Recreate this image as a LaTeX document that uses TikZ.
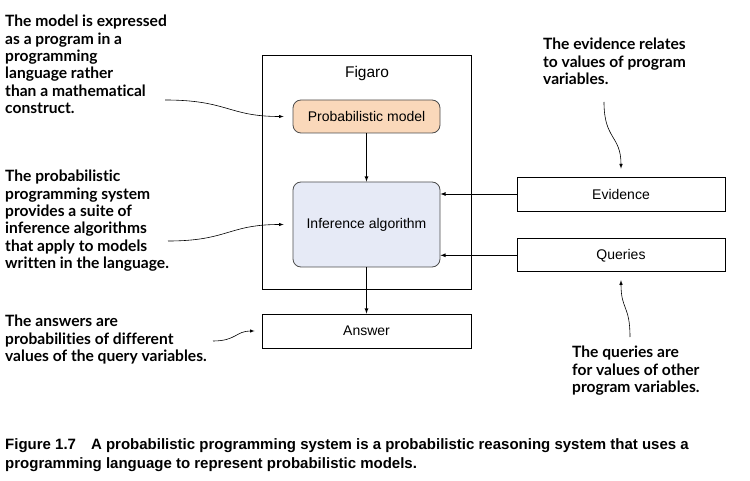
\documentclass[tikz,border=0pt]{standalone}
\usepackage{xcolor}
\usepackage{fontspec}
\setmainfont{Liberation Sans}
\newfontfamily\notefont[Ligatures=NoCommon]{Lato}
\usepackage{tikz}
\usetikzlibrary{arrows,positioning}

\definecolor{modelfill}{RGB}{250,216,186}
\definecolor{inferfill}{RGB}{230,234,246}

\begin{document}
\begin{tikzpicture}[x=1pt,y=-1pt,>=latex,inner sep=0pt,
  box/.style={draw=black,line width=0.8pt,minimum width=208pt,minimum height=34pt,font=\fontsize{14}{16}\selectfont},
  rbox/.style={draw=black!70,line width=0.8pt,rounded corners=8pt,minimum width=147pt,font=\fontsize{14}{16}\selectfont},
  note/.style={anchor=north west,align=left,font=\notefont\bfseries\fontsize{15.6}{17.4}\selectfont},
  wave/.style={->,line width=0.6pt,shorten >=9pt}]
\useasboundingbox (0,0) rectangle (750,481);

\node[box,minimum width=209pt,minimum height=234pt] (F) at (366.5,172) {};
\node[font=\fontsize{15.5}{18}\selectfont] (Fig) at (367,73) {Figaro};
\node[rbox,fill=modelfill,minimum height=33pt] (M) at (366.5,116.5) {Probabilistic model};
\node[rbox,fill=inferfill,minimum height=85pt] (I) at (366.5,224.5) {Inference algorithm};
\node[box] (E) at (621,194) {Evidence};
\node[box,minimum height=33pt] (Q) [below = 27pt of E] {Queries};
\node[box,minimum width=209pt] (A) at (366.5,331) {Answer};

\path (M) edge [->,line width=0.8pt] (I);
\path (E) edge [->,line width=0.8pt] (E -| I.east);
\path (Q) edge [->,line width=0.8pt] (Q -| I.east);
\path (I) edge [->,line width=0.8pt] (A);

% side notes
\node[note] (N1) at (5,15) {The model is expressed\\as a program in a\\programming\\language rather\\than a mathematical\\construct.};
\node[note] (N2) at (5,170) {The probabilistic\\programming system\\provides a suite of\\inference algorithms\\that apply to models\\written in the language.};
\node[note] (N3) at (5,315) {The answers are\\probabilities of different\\values of the query variables.};
\node[note] (N4) at (543,38) {The evidence relates\\to values of program\\variables.};
\node[note] (N5) at (572,346) {The queries are\\for values of other\\program variables.};

\coordinate (n1) at (165,100);
\coordinate (n2) at (168,241);
\coordinate (n3) at (213,341);
\coordinate (n4) at (604,102);
\coordinate (n5) at (630,337);
\draw[wave] (n1) .. controls (228,100) and (228,116.5) .. (M.west);
\draw[wave] (n2) .. controls (228,241) and (228,224.5) .. (I.west);
\draw[wave,shorten >=7pt] (n3) .. controls (236,341) and (236,331) .. (A.west);
\draw[wave,shorten >=8pt] (n4) .. controls (604,140) and (621,135) .. (E.north);
\draw[wave,shorten >=8pt] (n5) .. controls (630,305) and (621,310) .. (Q.south);

% caption
\node[anchor=base west,font=\bfseries\fontsize{15}{20}\selectfont] (C1) at (5,449) {Figure 1.7\hspace{1em}A probabilistic programming system is a probabilistic reasoning system that uses a};
\node[anchor=base west,font=\bfseries\fontsize{15}{20}\selectfont] (C2) at (5,468) {programming language to represent probabilistic models.};
\end{tikzpicture}
\end{document}
